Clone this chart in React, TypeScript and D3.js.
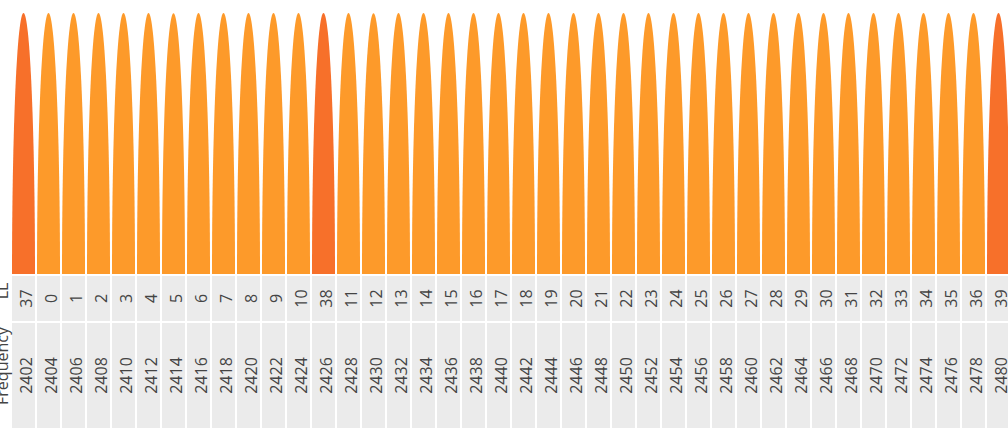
import * as d3 from 'd3';
import React from 'react';

// BLE channels, in frequency order
const llChannels = [37, 0, 1, 2, 3, 4, 5, 6, 7, 8, 9, 10, 38, 11, 12, 13, 14, 15, 16, 17, 18, 19, 20, 21, 22, 23, 24, 25, 26, 27, 28, 29, 30, 31, 32, 33, 34, 35, 36, 39];
const frequencies = [2402, 2404, 2406, 2408, 2410, 2412, 2414, 2416, 2418, 2420, 2422, 2424, 2426, 2428, 2430, 2432, 2434, 2436, 2438, 2440, 2442, 2444, 2446, 2448, 2450, 2452, 2454, 2456, 2458, 2460, 2462, 2464, 2466, 2468, 2470, 2472, 2474, 2476, 2478, 2480];
const advertising = [37, 38, 39];
const rowLabels = ['LL', 'Frequency'];

const W = 1008;
const H = 446;

export default function App() {
	const x = d3.scaleBand<number>()
		.domain(frequencies)
		.range([12, 1010])
		.paddingInner(0.08);
	const bw = x.bandwidth();

	const y = d3.scaleLinear().domain([0, 1]).range([274, 13]);

	const rows = [
		{ label: rowLabels[0], top: 276, bottom: 321, labelY: 291, values: llChannels },
		{ label: rowLabels[1], top: 323, bottom: 428, labelY: 366, values: frequencies }
	];

	const color = (ch: number) => advertising.includes(ch) ? '#f7702a' : '#fd9a2a';

	return (
		<svg width={W} height={H} style={{ position: 'absolute', left: 0, top: 0, fontFamily: 'Open Sans, sans-serif' }}>
			{frequencies.map((f, i) => {
				const x0 = x(f)!;
				const rx = bw / 2;
				const ry = y(0) - y(1);
				return (
					<path key={f}
						d={`M${x0},${y(0)} A${rx},${ry} 0 0 1 ${x0 + bw},${y(0)} Z`}
						fill={color(llChannels[i])} />
				);
			})}
			{rows.map(r => (
				<g key={r.label}>
					{frequencies.map((f, i) => {
						const cx = x(f)! + bw / 2;
						const cy = (r.top + r.bottom) / 2;
						return (
							<g key={f}>
								<rect x={x(f)} y={r.top} width={bw} height={r.bottom - r.top} fill="#ebebeb" />
								<text transform={`translate(${cx + 8},${cy}) rotate(-90)`}
									textAnchor="middle" fontSize={16} fill="#444">{r.values[i]}</text>
							</g>
						);
					})}
					<text transform={`translate(8,${r.labelY}) rotate(-90)`}
						textAnchor="middle" fontSize={16} fill="#444">{r.label}</text>
				</g>
			))}
		</svg>
	);
}
